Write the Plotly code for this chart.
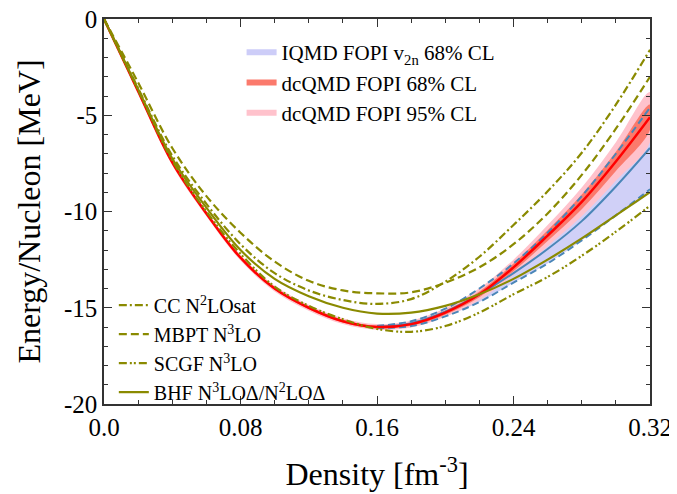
import plotly.graph_objects as go

# ── Data ──────────────────────────────────────────────────────────────────────
density = [0.00, 0.02, 0.04, 0.06, 0.08, 0.10, 0.12, 0.14, 0.16,
           0.18, 0.20, 0.22, 0.24, 0.26, 0.28, 0.30, 0.32]

dcqmd_mid = [0, -3.75, -7.45, -10.1, -12.4, -14.0, -15.0, -15.7, -16.0,
             -15.85, -15.25, -14.3, -12.9, -11.25, -9.5, -7.4, -5.1]
dcqmd_68_hi = [0, -3.7, -7.38, -10.03, -12.33, -13.93, -14.93, -15.63, -15.92,
               -15.76, -15.14, -14.15, -12.7, -10.97, -9.12, -6.9, -4.45]
dcqmd_68_lo = [0, -3.8, -7.52, -10.17, -12.47, -14.07, -15.07, -15.77, -16.08,
               -15.94, -15.36, -14.45, -13.1, -11.53, -9.88, -7.9, -5.75]
dcqmd_95_hi = [0, -3.62, -7.3, -9.95, -12.25, -13.85, -14.85, -15.55, -15.85,
               -15.67, -15.03, -14.0, -12.5, -10.7, -8.75, -6.4, -3.8]
dcqmd_95_lo = [0, -3.88, -7.6, -10.25, -12.55, -14.15, -15.15, -15.85, -16.15,
               -16.03, -15.47, -14.6, -13.3, -11.8, -10.25, -8.4, -6.4]

iqmd_density = [0.16, 0.18, 0.20, 0.22, 0.24, 0.26, 0.28, 0.30, 0.32]
iqmd_mid = [-16.0, -15.8, -15.2, -14.3, -13.2, -11.95, -10.5, -8.7, -6.7]
iqmd_hi = [-15.95, -15.7, -15.05, -14.0, -12.7, -11.1, -9.2, -7.0, -4.6]
iqmd_lo = [-16.05, -15.95, -15.45, -14.7, -13.7, -12.7, -11.5, -10.2, -8.85]

cc_n2losat = [0, -3.6, -7.1, -9.6, -11.7, -13.2, -14.1, -14.6, -14.8,
              -14.55, -13.65, -12.35, -10.7, -8.95, -6.95, -4.45, -1.6]
mbpt_n3lo = [0, -3.3, -6.7, -9.2, -11.1, -12.6, -13.6, -14.1, -14.25,
             -14.2, -13.7, -12.9, -11.7, -10.1, -8.1, -5.7, -3.0]
scgf_n3lo = [0, -3.7, -7.35, -10.0, -12.2, -13.9, -14.9, -15.6, -16.1,
             -16.25, -15.95, -15.25, -14.3, -13.4, -12.3, -11.05, -9.7]
bhf_n3lo = [0, -3.65, -7.25, -9.8, -12.0, -13.5, -14.4, -15.0, -15.3,
            -15.25, -14.9, -14.3, -13.5, -12.5, -11.4, -10.2, -9.0]

x_ticks = [0, 0.08, 0.16, 0.24, 0.32]
x_ticktext = ["0.0", "0.08", "0.16", "0.24", "0.32"]
y_ticks = [-20, -15, -10, -5, 0]
y_ticktext = ["-20", "-15", "-10", "-5", "0"]

# ── Colours ───────────────────────────────────────────────────────────────────
OLIVE = "#8a8a00"
RED = "#ff0000"
BLUE = "#4a86b8"
LAVENDER = "rgba(170,170,240,0.55)"
SALMON = "#fb7a6c"
PINK = "#ffc2cc"
FONT = "Liberation Serif, DejaVu Serif, serif"


def band(x, lo, hi, color):
    return go.Scatter(
        x=x + x[::-1], y=hi + lo[::-1],
        fill="toself", fillcolor=color, mode="lines",
        line=dict(width=0, color=color, shape="spline"),
        hoverinfo="skip", showlegend=False,
    )


fig = go.Figure()

# bands
fig.add_trace(band(iqmd_density, iqmd_lo, iqmd_hi, LAVENDER))
fig.add_trace(band(density, dcqmd_95_lo, dcqmd_95_hi, PINK))
fig.add_trace(band(density, dcqmd_68_lo, dcqmd_68_hi, SALMON))

# IQMD lines
for ys, dash in [(iqmd_hi, "7px,4px"), (iqmd_lo, "7px,4px"), (iqmd_mid, "solid")]:
    fig.add_trace(go.Scatter(
        x=iqmd_density, y=ys, mode="lines", showlegend=False,
        line=dict(color=BLUE, width=2, dash=dash, shape="spline"),
    ))

# dcQMD central
fig.add_trace(go.Scatter(
    x=density, y=dcqmd_mid, mode="lines", showlegend=False,
    line=dict(color=RED, width=2.5, shape="spline"),
))

# theory curves
theory = [
    ("CC N<sup>2</sup>LOsat", cc_n2losat, "8px,3px,2px,3px"),
    ("MBPT N<sup>3</sup>LO", mbpt_n3lo, "8px,4px"),
    ("SCGF N<sup>3</sup>LO", scgf_n3lo, "8px,3px,2px,2px,2px,3px"),
    ("BHF N<sup>3</sup>LOΔ/N<sup>2</sup>LOΔ", bhf_n3lo, "solid"),
]
for name, ys, dash in theory:
    fig.add_trace(go.Scatter(
        x=density, y=ys, mode="lines", name=name, legend="legend2",
        line=dict(color=OLIVE, width=2.2, dash=dash, shape="spline"),
    ))

# legend-only swatches for the bands
for name, color in [("IQMD FOPI v<sub>2n</sub> 68% CL", "rgb(205,205,248)"),
                    ("dcQMD FOPI 68% CL", SALMON),
                    ("dcQMD FOPI 95% CL", PINK)]:
    fig.add_trace(go.Scatter(
        x=[None], y=[None], mode="lines", name=name, legend="legend",
        line=dict(color=color, width=6),
    ))

axis_common = dict(
    showline=True, linecolor="#333333", linewidth=1.5, mirror="ticks",
    ticks="inside", ticklen=8, tickcolor="#333333", tickwidth=1.2,
    showgrid=False, zeroline=False, automargin=False,
    ticklabeloverflow="allow",
    tickfont=dict(family=FONT, size=25, color="black"),
)

# the page body adds an 8px offset, so the figure is drawn 8px smaller
fig.update_layout(
    width=669, height=486,
    paper_bgcolor="white", plot_bgcolor="white",
    font=dict(family=FONT, color="black"),
    margin=dict(l=96, r=27, t=11, b=90),
    xaxis=dict(
        range=[0, 0.32], tickvals=x_ticks, ticktext=x_ticktext,
        minor=dict(dtick=0.02, ticks="inside", ticklen=4, tickcolor="#333333"),
        title=dict(text="Density [fm<sup>-3</sup>]",
                   font=dict(family=FONT, size=32, color="black"), standoff=23),
        **axis_common,
    ),
    yaxis=dict(
        range=[-20, 0], tickvals=y_ticks, ticktext=y_ticktext,
        minor=dict(dtick=1, ticks="inside", ticklen=4, tickcolor="#333333"),
        title=dict(text="Energy/Nucleon [MeV]",
                   font=dict(family=FONT, size=32, color="black"), standoff=14),
        **axis_common,
    ),
    legend=dict(
        x=0.252, y=0.966, xanchor="left", yanchor="top",
        bgcolor="rgba(0,0,0,0)", font=dict(family=FONT, size=21, color="black"),
        itemwidth=30, tracegroupgap=0,
    ),
    legend2=dict(
        x=0.018, y=-0.02, xanchor="left", yanchor="bottom",
        bgcolor="rgba(0,0,0,0)", font=dict(family=FONT, size=20, color="black"),
        itemwidth=30, tracegroupgap=0,
    ),
)

fig.write_html("out.html")
